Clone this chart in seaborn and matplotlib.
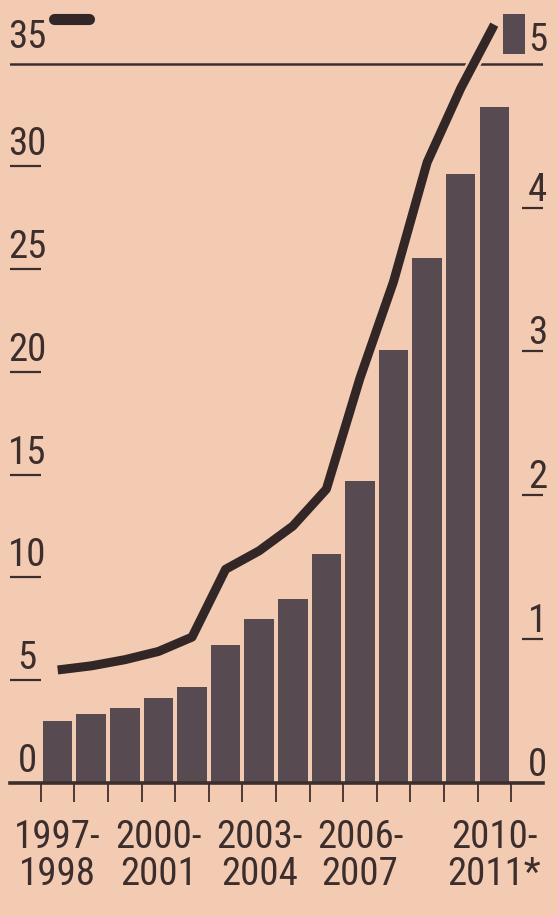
import numpy as np
import pandas as pd
import matplotlib.pyplot as plt
import matplotlib.patheffects as pe
from matplotlib.lines import Line2D
from matplotlib.patches import Rectangle
import seaborn as sns

# values
periods = ["1997-1998", "1998-1999", "1999-2000", "2000-2001", "2001-2002",
           "2002-2003", "2003-2004", "2004-2005", "2005-2006", "2006-2007",
           "2007-2008", "2008-2009", "2009-2010", "2010-2011*"]
bar_values = [0.43, 0.48, 0.52, 0.59, 0.67, 0.96, 1.14, 1.28, 1.59, 2.10,
              3.01, 3.65, 4.23, 4.70]          # right axis
line_values = [5.5, 5.7, 6.0, 6.4, 7.1, 10.4, 11.3, 12.5, 14.3, 19.7,
               24.4, 30.2, 33.8, 36.9]          # left axis
label_idx = [0, 3, 6, 9, 13]
x_labels = ["1997-\n1998", "2000-\n2001", "2003-\n2004", "2006-\n2007", "2010-\n2011*"]
left_ticks = [0, 5, 10, 15, 20, 25, 30, 35]
right_ticks = [0, 1, 2, 3, 4, 5]

BG = "#f3cbb3"
BAR = "#574a50"
LINE = "#332626"
INK = "#3d2e2e"
FS = 28

sns.set_theme(style="white")
plt.rcParams['font.family'] = ['Liberation Sans Narrow', 'Roboto Condensed',
                               'DejaVu Sans Condensed', 'Open Sans Condensed',
                               'Roboto', 'DejaVu Sans']
plt.rcParams['font.stretch'] = 'condensed'
plt.rcParams['font.weight'] = 'normal'

df = pd.DataFrame({"period": periods, "pos": np.arange(len(periods)),
                   "bars": bar_values, "line": line_values})

W, H = 558, 916
fig = plt.figure(figsize=(W / 100, H / 100), dpi=100, facecolor=BG)
base_px = 783
ax = fig.add_axes([10 / W, (H - base_px) / H, 533 / W, base_px / H])
ax2 = ax.twinx()
ax.set_zorder(ax2.get_zorder() + 1)
ax.patch.set_visible(False)
ax2.patch.set_visible(False)

# bars on right axis
sns.barplot(data=df, x="pos", y="bars", native_scale=True, width=0.88,
            color=BAR, saturation=1, linewidth=0, ax=ax2)

# line on left axis
sns.lineplot(data=df, x="pos", y="line", color=LINE, linewidth=6.5, ax=ax,
             solid_capstyle="butt",
             path_effects=[pe.withStroke(linewidth=10, foreground=BG)])

ymax = 38.1
ax.set_ylim(0, ymax)
ax2.set_ylim(0, ymax / 7)
ax.set_xlim(-1.42, 14.45)

for a in (ax, ax2):
    a.set_xlabel("")
    a.set_ylabel("")
    for s in a.spines.values():
        s.set_visible(False)
ax.spines["bottom"].set_visible(True)
ax.spines["bottom"].set_color(INK)
ax.spines["bottom"].set_linewidth(2.6)

# top rule at 35
ax.axhline(35, color=INK, lw=1.8, zorder=1)

# x ticks: boundaries as minor ticks, period labels as major
ax.set_xticks(np.arange(-0.5, len(periods), 1), minor=True)
ax.set_xticks(label_idx)
ax.set_xticklabels(x_labels, fontsize=FS, color=INK, linespacing=1.0)
ax.tick_params(axis="x", which="major", length=0, pad=26)
ax.tick_params(axis="x", which="minor", direction="out", length=14,
               width=1.3, color=INK, bottom=True)

# y ticks drawn as short rules, labels sit above them
ax.set_yticks(left_ticks[1:-1])
ax.tick_params(axis="y", direction="in", length=22, width=1.6, color=INK,
               left=True, labelleft=False)
ax2.set_yticks(right_ticks[1:-1])
ax2.tick_params(axis="y", direction="in", length=15, width=1.6, color=INK,
                right=True, labelright=False)

for v in left_ticks:
    off = 11 if v == left_ticks[-1] else 8
    ax.annotate(str(v), xy=(0.032, v), xycoords=ax.get_yaxis_transform(),
                xytext=(0, off), textcoords="offset points", ha="center",
                va="baseline", fontsize=FS, color=INK)
for v in right_ticks:
    off = 9 if v == right_ticks[-1] else 5
    ax2.annotate(str(v), xy=(0.99, v), xycoords=ax2.get_yaxis_transform(),
                 xytext=(0, off), textcoords="offset points", ha="center",
                 va="baseline", fontsize=FS, color=INK)

# legend keys next to the top labels
fig.add_artist(Line2D([54 / W, 89 / W], [1 - 19 / H] * 2, lw=8, color=LINE,
                      solid_capstyle="round"))
fig.add_artist(Rectangle((503 / W, 1 - 54 / H), 22 / W, 40 / H,
                         color=BAR, lw=0))

fig.savefig("out.png", dpi=100, facecolor=BG)
